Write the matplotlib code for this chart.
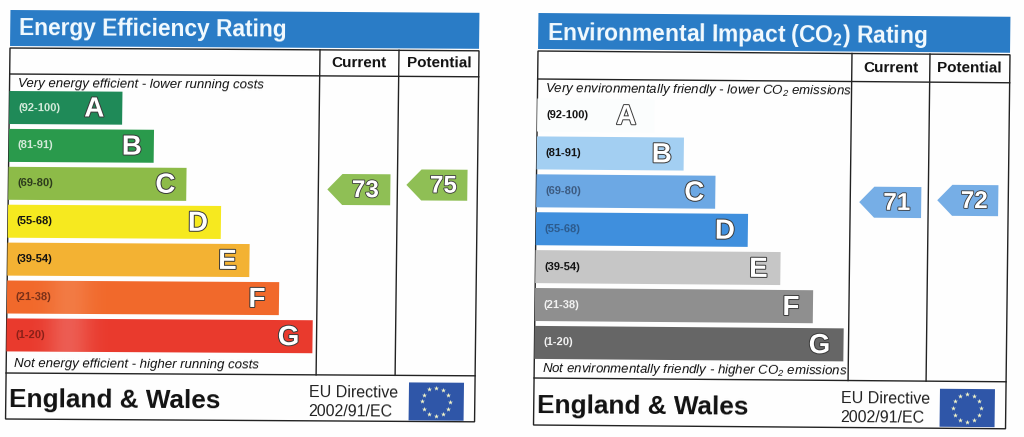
# -*- coding: utf-8 -*-
import numpy as np
import matplotlib
matplotlib.use('Agg')
import matplotlib.pyplot as plt
import matplotlib.patheffects as pe
from matplotlib.patches import Polygon, Rectangle
from matplotlib.transforms import Affine2D

plt.rcParams['font.family'] = ['Liberation Sans', 'DejaVu Sans']
plt.rcParams['mathtext.default'] = 'regular'

# values
letters = ['A', 'B', 'C', 'D', 'E', 'F', 'G']
ranges = ['(92-100)', '(81-91)', '(69-80)', '(55-68)', '(39-54)', '(21-38)', '(1-20)']

eer_title = 'Energy Efficiency Rating'
eer_top = 'Very energy efficient - lower running costs'
eer_bottom = 'Not energy efficient - higher running costs'
eer_lengths = [113, 145, 178, 213, 242, 272, 306]
eer_current = 73
eer_potential = 75

eir_title = 'Environmental Impact (CO$_2$) Rating'
eir_top = 'Very environmentally friendly - lower CO$_2$ emissions'
eir_bottom = 'Not environmentally friendly - higher CO$_2$ emissions'
eir_lengths = [117, 147, 179, 212, 245, 278, 309]
eir_current = 71
eir_potential = 72

# colours
eer_colors = ['#1f8a58', '#2a9a4c', '#8dbb48', '#f6e91f', '#f3b233', '#f1692b', '#e93a2d']
eer_range_colors = ['#d6ecdc', '#d6ecdc', '#2c3a1c', '#111111', '#111111', '#7a3018', '#8a2018']
eer_glow = [0, 0, 0, 0, 0, 0.12, 0.18]
eir_colors = ['#fbfdfd', '#a3cff2', '#6ca8e4', '#3f8fdd', '#c6c6c6', '#8f8f8f', '#666666']
eir_range_colors = ['#111111', '#111111', '#3c5a80', '#2c5a8c', '#111111', '#f4f4f4', '#f4f4f4']
eir_glow = [0, 0, 0, 0, 0, 0, 0]
EER_ARROW = '#8fbf55'
EIR_ARROW = '#76aee6'
HEADER = '#2a7cc6'
INK = '#222222'
FLAG = '#2f56a8'
letter_inset = [28, 22, 21, 23, 22, 22, 24]


def outlined(lw):
    return [pe.withStroke(linewidth=lw, foreground='#3a3a3a')]


def draw_panel(ax, x0, y0, slope, lean, col1, col2, right, rule, tbl_bottom, foot_bottom,
               bar_top, title, top_txt, bottom_txt, lengths, colors, range_colors, glow,
               current, potential, arrow_color, arrow_shift):
    tf = Affine2D(np.array([[1, lean, x0], [slope, 1, y0], [0, 0, 1.0]])) + ax.transData
    rot = -np.degrees(np.arctan(slope))

    # header band
    ax.add_patch(Rectangle((0, -38), right, 36, fc=HEADER, ec='none', transform=tf))
    ax.text(9, rule - 46, title, transform=tf, rotation=rot, rotation_mode='anchor', ha='left',
            va='center', fontsize=16.4, fontweight='bold', color='#f4fbff')

    # table rules
    ax.add_patch(Rectangle((0, 0), right, foot_bottom, fc='none', ec=INK, lw=1.0, transform=tf))
    ax.plot([0, right], [rule, rule], color=INK, lw=1.0, transform=tf)
    ax.plot([0, right], [tbl_bottom, tbl_bottom], color=INK, lw=1.0, transform=tf)
    ax.plot([col1, col1], [0, tbl_bottom], color=INK, lw=1.0, transform=tf)
    ax.plot([col2, col2], [0, tbl_bottom], color=INK, lw=1.0, transform=tf)

    ax.text((col1 + col2) / 2, rule / 2, 'Current', transform=tf, rotation=rot, ha='center',
            va='center', rotation_mode='anchor', fontsize=11, fontweight='bold', color='#111111')
    ax.text((col2 + right) / 2, rule / 2, 'Potential', transform=tf, rotation=rot, ha='center',
            va='center', rotation_mode='anchor', fontsize=11, fontweight='bold', color='#111111')

    ax.text(8, rule + 10, top_txt, transform=tf, rotation=rot, rotation_mode='anchor', ha='left',
            va='center', fontsize=9.5, style='italic', color='#111111')
    ax.text(8, tbl_bottom - 9, bottom_txt, transform=tf, rotation=rot, rotation_mode='anchor',
            ha='left', va='center', fontsize=9.5, style='italic', color='#111111')

    # rating bars
    row = bar_top + 37.9 * np.arange(len(lengths))
    bars = ax.barh(row, lengths, height=33, left=0, align='edge', color=colors)
    for b in bars:
        b.set_transform(tf)
    for i, n in enumerate(lengths):
        if glow[i] > 0:
            # lighter patch near the left of the bar
            u = np.arange(int(n))
            shade = np.ones((1, len(u), 4))
            shade[0, :, 3] = glow[i] * np.exp(-((u - 62) / 22.0) ** 2)
            ax.imshow(shade, extent=(0, n, row[i] + 33, row[i]), aspect='auto', transform=tf,
                      zorder=1.5, interpolation='bilinear')
        ax.text(9, row[i] + 16.5, ranges[i], transform=tf, rotation=rot, rotation_mode='anchor',
                ha='left', va='center', fontsize=8, fontweight='bold', color=range_colors[i])
        ax.text(n - letter_inset[i], row[i] + 18, letters[i], transform=tf, rotation=rot,
                rotation_mode='anchor', ha='center', va='center', fontsize=20, fontweight='bold',
                color='white', path_effects=outlined(1.4))

    # score arrows, height follows the score
    for score, c0, c1 in [(current, col1, col2), (potential, col2, right)]:
        v = 322 - 2.5 * score + arrow_shift
        left = c0 + 9
        tip = left + 15
        end = c1 - 7 if c1 != right else right - 10
        ax.add_patch(Polygon([(left, v), (tip, v - 15.5), (end, v - 15.5), (end, v + 15.5), (tip, v + 15.5)],
                             closed=True, fc=arrow_color, ec='none', transform=tf))
        ax.text((tip + end) / 2 - 1, v + 1, str(score), transform=tf, rotation=rot, rotation_mode='anchor',
                ha='center', va='center', fontsize=17.5, color='white', fontweight='bold',
                path_effects=outlined(1.2))

    # footer
    mid = (tbl_bottom + foot_bottom) / 2
    ax.text(3, mid + 4, 'England & Wales', transform=tf, rotation=rot, rotation_mode='anchor',
            ha='left', va='center', fontsize=18.8, fontweight='bold', color='#111111')
    ax.text(col1 - 7, mid - 5, 'EU Directive', transform=tf, rotation=rot, rotation_mode='anchor',
            ha='left', va='center', fontsize=11.5, color='#222222')
    ax.text(col1 - 7, mid + 14, '2002/91/EC', transform=tf, rotation=rot, rotation_mode='anchor',
            ha='left', va='center', fontsize=11.5, color='#222222')

    fx, fw, fh = col2 + 14, 55, 38
    fy = mid - fh / 2 + 3
    ax.add_patch(Rectangle((fx, fy), fw, fh, fc=FLAG, ec='none', transform=tf))
    ang = np.radians(np.arange(0, 360, 30))
    ax.scatter(fx + fw / 2 + 14 * np.cos(ang), fy + fh / 2 + 14 * np.sin(ang), s=14, marker='*',
               color='#f2f4c8', linewidths=0, transform=tf)


fig = plt.figure(figsize=(10.24, 4.37), dpi=100, facecolor='#fefefe')
ax = fig.add_axes([0, 0, 1, 1])
ax.axis('off')

draw_panel(ax, 10, 48, 0.006, -0.012, 310, 389, 469, 26, 325, 371, 43,
           eer_title, eer_top, eer_bottom, eer_lengths, eer_colors, eer_range_colors, eer_glow,
           eer_current, eer_potential, EER_ARROW, 0)
draw_panel(ax, 538, 51, 0.008, -0.012, 314, 392, 472, 28, 327, 374, 47.5,
           eir_title, eir_top, eir_bottom, eir_lengths, eir_colors, eir_range_colors, eir_glow,
           eir_current, eir_potential, EIR_ARROW, 4)

ax.set_xlim(0, 1024)
ax.set_ylim(437, 0)
fig.savefig('out.png', dpi=100, facecolor=fig.get_facecolor())
